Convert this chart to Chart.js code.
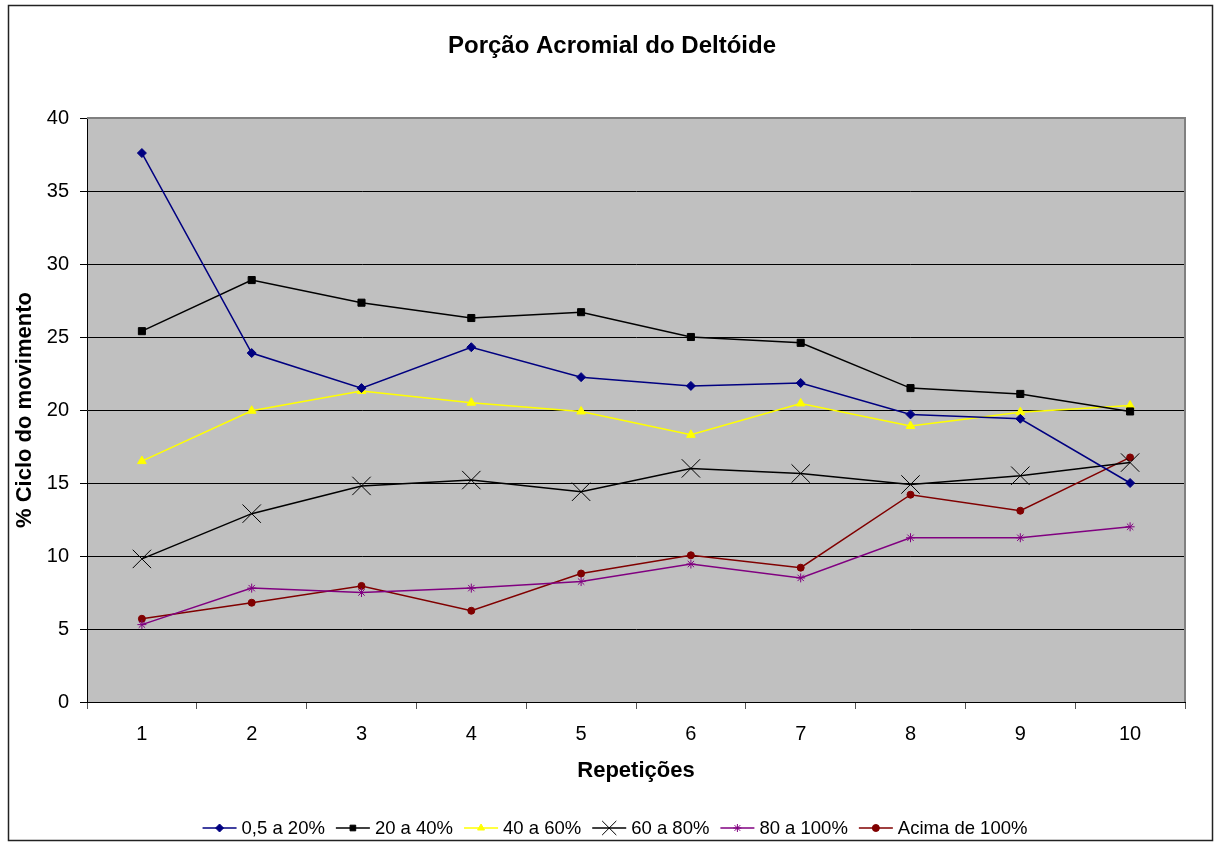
<!DOCTYPE html>
<html>
<head>
<meta charset="utf-8">
<title>Porção Acromial do Deltóide</title>
<script src="https://cdn.jsdelivr.net/npm/chart.js@4.4.0/dist/chart.umd.min.js"></script>
<style>
  html, body { margin: 0; padding: 0; background: #fff; }
  canvas { display: block; }
</style>
</head>
<body>
<canvas id="myChart" width="1220" height="842"></canvas>
<script>
'use strict';

// repetitions on the x axis
var repeticoes = ['1', '2', '3', '4', '5', '6', '7', '8', '9', '10'];

// % of the movement cycle, one array per activation band
var faixa0a20 = [37.6, 23.9, 21.5, 24.3, 22.25, 21.65, 21.85, 19.7, 19.4, 15.0];
var faixa20a40 = [25.4, 28.9, 27.35, 26.3, 26.7, 25.0, 24.6, 21.5, 21.1, 19.9];
var faixa40a60 = [16.5, 19.95, 21.3, 20.5, 19.9, 18.3, 20.45, 18.9, 19.85, 20.3];
var faixa60a80 = [9.8, 12.9, 14.8, 15.2, 14.4, 16.0, 15.65, 14.9, 15.5, 16.4];
var faixa80a100 = [5.3, 7.8, 7.5, 7.8, 8.25, 9.45, 8.5, 11.25, 11.25, 12.0];
var acima100 = [5.7, 6.8, 7.95, 6.25, 8.8, 10.05, 9.2, 14.2, 13.1, 16.75];

var nomesSeries = ['0,5 a 20%', '20 a 40%', '40 a 60%', '60 a 80%', '80 a 100%', 'Acima de 100%'];
var yTicks = [0, 5, 10, 15, 20, 25, 30, 35, 40];

var FONT = "'Liberation Sans', Arial, Helvetica, sans-serif";
Chart.defaults.font.family = FONT;
Chart.defaults.color = '#000';

function serie(label, data, color, style, radius) {
    return {
        label: label,
        data: data,
        borderColor: color,
        backgroundColor: color,
        borderWidth: 1.5,
        pointStyle: style,
        pointRadius: radius,
        pointHoverRadius: radius,
        pointBorderWidth: 1,
        pointBorderColor: color,
        pointBackgroundColor: color,
        tension: 0,
        fill: false
    };
}

var datasets = [
    serie(nomesSeries[0], faixa0a20, '#000080', 'rectRot', 4.5),
    serie(nomesSeries[1], faixa20a40, '#000000', 'rect', 5),
    serie(nomesSeries[2], faixa40a60, '#FFFF00', 'triangle', 5),
    serie(nomesSeries[3], faixa60a80, '#000000', 'crossRot', 13),
    serie(nomesSeries[4], faixa80a100, '#800080', 'star', 4.5),
    serie(nomesSeries[5], acima100, '#800000', 'circle', 3.5)
];

// gray plot area, its border, the outer frame, title and legend
var moldura = {
    id: 'moldura',
    beforeDraw: function (chart) {
        var ctx = chart.ctx;
        var a = chart.chartArea;
        ctx.save();
        ctx.fillStyle = '#fff';
        ctx.fillRect(0, 0, chart.width, chart.height);
        ctx.fillStyle = '#C0C0C0';
        ctx.fillRect(a.left, a.top, a.right - a.left, a.bottom - a.top);
        ctx.restore();
    },
    beforeDatasetsDraw: function (chart) {
        var ctx = chart.ctx;
        var a = chart.chartArea;
        ctx.save();
        ctx.strokeStyle = '#808080';
        ctx.lineWidth = 2;
        ctx.beginPath();
        ctx.moveTo(a.left, a.top);
        ctx.lineTo(a.right, a.top);
        ctx.lineTo(a.right, a.bottom);
        ctx.stroke();
        ctx.restore();
    },
    afterDraw: function (chart) {
        var ctx = chart.ctx;
        ctx.save();

        // outer frame
        ctx.strokeStyle = '#222';
        ctx.lineWidth = 1.5;
        ctx.strokeRect(8.5, 5.5, 1204, 835);

        // title
        ctx.fillStyle = '#000';
        ctx.font = 'bold 24px ' + FONT;
        ctx.textAlign = 'center';
        ctx.textBaseline = 'middle';
        ctx.fillText('Porção Acromial do Deltóide', 612, 46);

        // legend: line sample with marker, then text
        ctx.font = '18.5px ' + FONT;
        var linha = 34, gap1 = 5, gap2 = 11;
        var total = 0;
        var larguras = datasets.map(function (ds) {
            var w = ctx.measureText(ds.label).width;
            total += linha + gap1 + w + gap2;
            return w;
        });
        total -= gap2;
        var x = 615 - total / 2;
        var y = 828;
        ctx.textAlign = 'left';
        datasets.forEach(function (ds, i) {
            ctx.strokeStyle = ds.borderColor;
            ctx.fillStyle = ds.borderColor;
            ctx.lineWidth = 1.5;
            ctx.beginPath();
            ctx.moveTo(x, y);
            ctx.lineTo(x + linha, y);
            ctx.stroke();
            ctx.lineWidth = 1;
            var r = ds.pointStyle === 'crossRot' ? 10 : Math.min(ds.pointRadius, 4);
            Chart.helpers.drawPoint(ctx, { pointStyle: ds.pointStyle, radius: r, rotation: 0, borderWidth: 1 }, x + linha / 2, y);
            ctx.fillStyle = '#000';
            ctx.fillText(ds.label, x + linha + gap1, y + 1);
            x += linha + gap1 + larguras[i] + gap2;
        });
        ctx.restore();
    }
};

var ctx = document.getElementById('myChart').getContext('2d');
var chart = new Chart(ctx, {
    type: 'line',
    data: {
        labels: repeticoes,
        datasets: datasets
    },
    options: {
        responsive: false,
        animation: false,
        devicePixelRatio: 1,
        layout: {
            padding: { top: 118, left: 8, right: 35, bottom: 40 }
        },
        plugins: {
            legend: { display: false },
            title: { display: false },
            tooltip: { enabled: false }
        },
        scales: {
            x: {
                type: 'category',
                offset: true,
                grid: {
                    offset: true,
                    drawOnChartArea: false,
                    drawTicks: true,
                    tickLength: 7,
                    tickColor: '#555',
                    lineWidth: 1
                },
                border: { display: true, color: '#000', width: 1 },
                ticks: {
                    font: { size: 20 },
                    color: '#000',
                    padding: 13,
                    maxRotation: 0,
                    autoSkip: false
                },
                title: {
                    display: true,
                    text: 'Repetições',
                    font: { size: 22, weight: 'bold' },
                    color: '#000',
                    padding: { top: 0, bottom: 18 }
                },
                afterFit: function (scale) { scale.height = 100; }
            },
            y: {
                min: 0,
                max: 40,
                afterBuildTicks: function (scale) {
                    scale.ticks = yTicks.map(function (v) { return { value: v }; });
                },
                grid: {
                    color: function (c) { return c.tick && c.tick.value === 40 ? '#808080' : '#000'; },
                    lineWidth: 1,
                    drawTicks: true,
                    tickLength: 7,
                    tickColor: '#000'
                },
                border: { display: true, color: '#000', width: 1 },
                ticks: {
                    font: { size: 20 },
                    color: '#000',
                    padding: 11
                },
                title: {
                    display: true,
                    text: '% Ciclo do movimento',
                    font: { size: 22, weight: 'bold' },
                    color: '#000',
                    padding: { top: 4, bottom: 0 }
                },
                afterFit: function (scale) { scale.width = 79; }
            }
        }
    },
    plugins: [moldura]
});
</script>
</body>
</html>
